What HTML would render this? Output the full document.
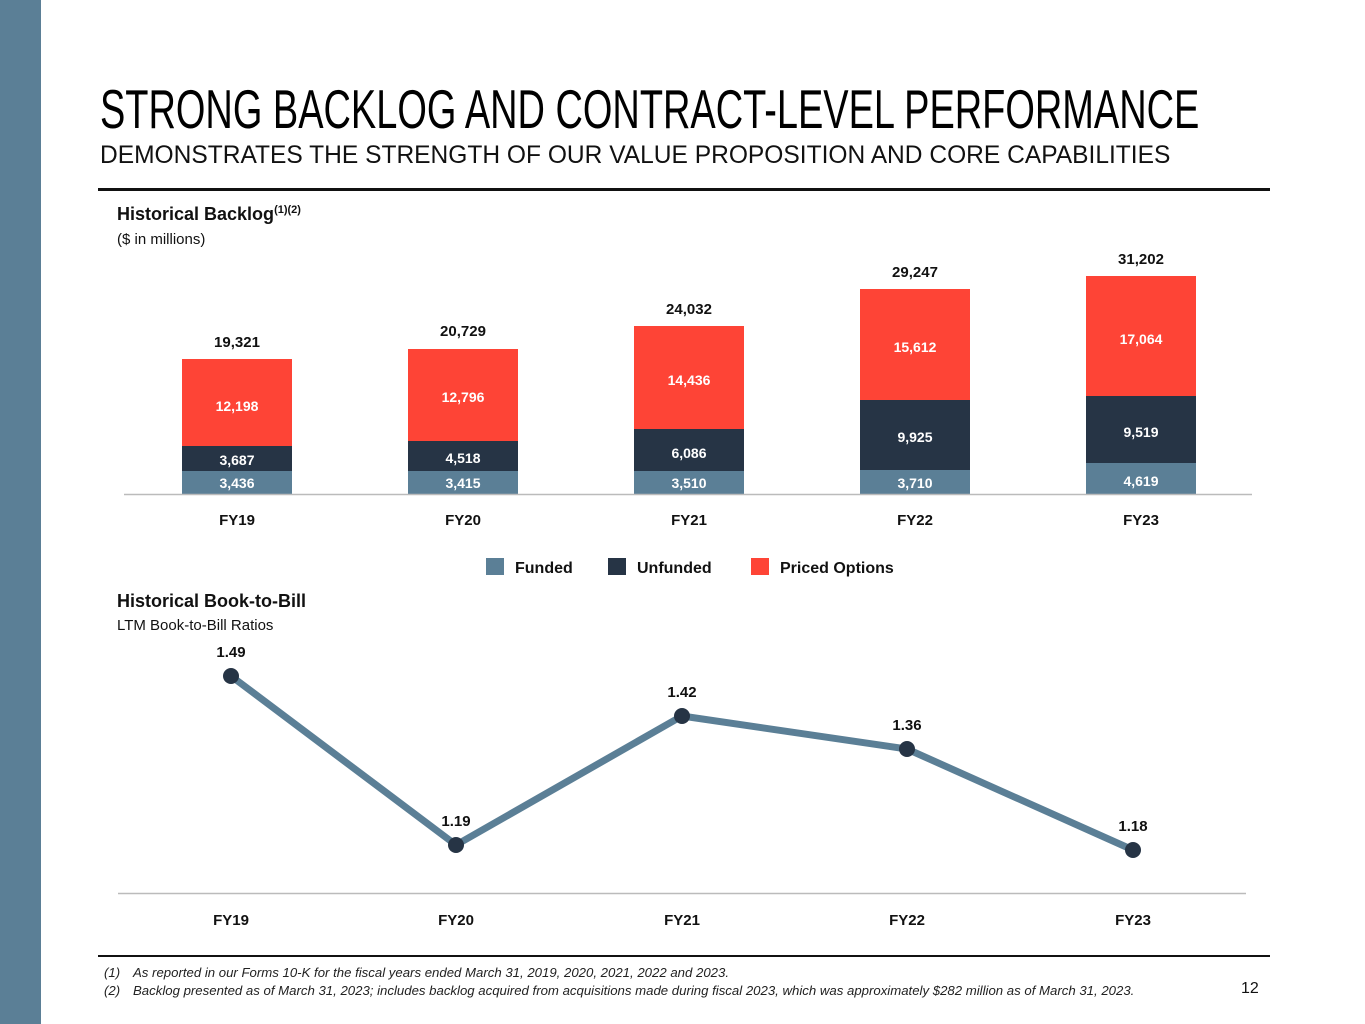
<!DOCTYPE html>
<html><head><style>
body{margin:0;width:1365px;height:1024px;background:#fff;position:relative;overflow:hidden;font-family:"Liberation Sans",sans-serif}
.a{position:absolute;white-space:nowrap}
.b{font-weight:bold}
</style></head><body>
<div class="a" style="left:0;top:0;width:41px;height:1024px;background:#5b7f96"></div>
<div class="a" style="left:100px;top:77px;font-size:55px;color:#000;transform:scaleX(0.69);transform-origin:left top">STRONG BACKLOG AND CONTRACT-LEVEL PERFORMANCE</div>
<div class="a" style="left:100px;top:141px;font-size:25px;color:#111;transform:scaleX(0.982);transform-origin:left top">DEMONSTRATES THE STRENGTH OF OUR VALUE PROPOSITION AND CORE CAPABILITIES</div>
<div class="a" style="left:98px;top:188px;width:1172px;height:3px;background:#111"></div>
<div class="a b" style="left:117px;top:204px;font-size:18px;color:#111">Historical Backlog<sup style="font-size:11px">(1)(2)</sup></div>
<div class="a" style="left:117px;top:231px;font-size:15px;color:#111">($ in millions)</div>
<svg class="a" style="left:0;top:0" width="1365" height="1024" font-family="Liberation Sans, sans-serif" font-weight="bold">
<g font-size="15" text-anchor="middle">
<rect x="182" y="359" width="110" height="87" fill="#fe4436"/><rect x="182" y="446" width="110" height="25" fill="#263445"/><rect x="182" y="471" width="110" height="23" fill="#5b7f96"/>
<rect x="408" y="349" width="110" height="92" fill="#fe4436"/><rect x="408" y="441" width="110" height="30" fill="#263445"/><rect x="408" y="471" width="110" height="23" fill="#5b7f96"/>
<rect x="634" y="326" width="110" height="103" fill="#fe4436"/><rect x="634" y="429" width="110" height="42" fill="#263445"/><rect x="634" y="471" width="110" height="23" fill="#5b7f96"/>
<rect x="860" y="289" width="110" height="111" fill="#fe4436"/><rect x="860" y="400" width="110" height="70" fill="#263445"/><rect x="860" y="470" width="110" height="24" fill="#5b7f96"/>
<rect x="1086" y="276" width="110" height="120" fill="#fe4436"/><rect x="1086" y="396" width="110" height="67" fill="#263445"/><rect x="1086" y="463" width="110" height="31" fill="#5b7f96"/>
<line x1="124" y1="494.5" x2="1252" y2="494.5" stroke="#bbb" stroke-width="1.5"/>
<g fill="#fff" font-size="14">
<text x="237" y="411">12,198</text><text x="237" y="465">3,687</text><text x="237" y="488">3,436</text>
<text x="463" y="402">12,796</text><text x="463" y="463">4,518</text><text x="463" y="488">3,415</text>
<text x="689" y="385">14,436</text><text x="689" y="458">6,086</text><text x="689" y="488">3,510</text>
<text x="915" y="352">15,612</text><text x="915" y="442">9,925</text><text x="915" y="488">3,710</text>
<text x="1141" y="344">17,064</text><text x="1141" y="437">9,519</text><text x="1141" y="486">4,619</text>
</g>
<g fill="#111">
<text x="237" y="347">19,321</text><text x="463" y="336">20,729</text><text x="689" y="314">24,032</text><text x="915" y="277">29,247</text><text x="1141" y="264">31,202</text>
<text x="237" y="525">FY19</text><text x="463" y="525">FY20</text><text x="689" y="525">FY21</text><text x="915" y="525">FY22</text><text x="1141" y="525">FY23</text>
</g>
<rect x="486" y="558" width="18" height="17" fill="#5b7f96"/><text x="515" y="573" text-anchor="start" fill="#111" font-size="16">Funded</text>
<rect x="608" y="558" width="18" height="17" fill="#263445"/><text x="637" y="573" text-anchor="start" fill="#111" font-size="16">Unfunded</text>
<rect x="751" y="558" width="18" height="17" fill="#fe4436"/><text x="780" y="573" text-anchor="start" fill="#111" font-size="16">Priced Options</text>
<line x1="118" y1="893.5" x2="1246" y2="893.5" stroke="#bbb" stroke-width="1.5"/>
<polyline points="231,676 456,845 682,716 907,749 1133,850" fill="none" stroke="#5b7f96" stroke-width="7" stroke-linejoin="round"/>
<g fill="#263445"><circle cx="231" cy="676" r="8"/><circle cx="456" cy="845" r="8"/><circle cx="682" cy="716" r="8"/><circle cx="907" cy="749" r="8"/><circle cx="1133" cy="850" r="8"/></g>
<g fill="#111">
<text x="231" y="657">1.49</text><text x="456" y="826">1.19</text><text x="682" y="697">1.42</text><text x="907" y="730">1.36</text><text x="1133" y="831">1.18</text>
<text x="231" y="925">FY19</text><text x="456" y="925">FY20</text><text x="682" y="925">FY21</text><text x="907" y="925">FY22</text><text x="1133" y="925">FY23</text>
</g>
</g>
</svg>
<div class="a b" style="left:117px;top:591px;font-size:18px;color:#111">Historical Book-to-Bill</div>
<div class="a" style="left:117px;top:617px;font-size:15px;color:#111">LTM Book-to-Bill Ratios</div>
<div class="a" style="left:98px;top:955px;width:1172px;height:2px;background:#111"></div>
<div class="a" style="left:104px;top:965px;font-size:13.2px;font-style:italic;color:#222">(1)<span style="position:absolute;left:29px">As reported in our Forms 10-K for the fiscal years ended March 31, 2019, 2020, 2021, 2022 and 2023.</span></div>
<div class="a" style="left:104px;top:983px;font-size:13.2px;font-style:italic;color:#222">(2)<span style="position:absolute;left:29px">Backlog presented as of March 31, 2023; includes backlog acquired from acquisitions made during fiscal 2023, which was approximately $282 million as of March 31, 2023.</span></div>
<div class="a" style="left:1241px;top:980px;font-size:16px;color:#111">12</div>
</body></html>
